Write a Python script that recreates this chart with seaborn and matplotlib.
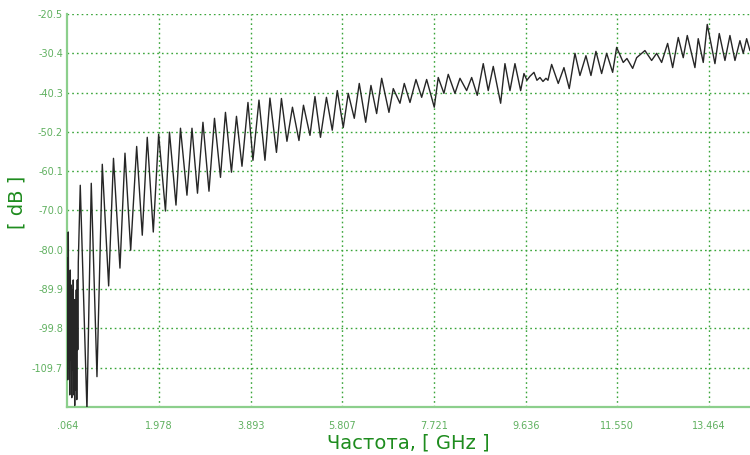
import matplotlib
matplotlib.use("Agg")
import matplotlib.pyplot as plt
import numpy as np
import pandas as pd
import seaborn as sns

# Measured transmission response: frequency (GHz) and level (dB)
freq_ghz = [
    0.064, 0.074, 0.085, 0.095, 0.106, 0.116, 0.127, 0.137, 0.148, 0.158,
    0.168, 0.179, 0.189, 0.200, 0.210, 0.219, 0.231, 0.241, 0.252, 0.262,
    0.273, 0.283, 0.294, 0.335, 0.475, 0.565, 0.684, 0.795, 0.928, 1.029,
    1.164, 1.269, 1.388, 1.513, 1.630, 1.734, 1.860, 1.972, 2.114, 2.198,
    2.334, 2.428, 2.563, 2.668, 2.783, 2.897, 3.023, 3.138, 3.263, 3.367,
    3.492, 3.597, 3.712, 3.837, 3.941, 4.067, 4.192, 4.296, 4.432, 4.536,
    4.651, 4.766, 4.902, 4.996, 5.132, 5.236, 5.351, 5.476, 5.597, 5.702,
    5.827, 5.931, 6.057, 6.161, 6.295, 6.405, 6.524, 6.629, 6.781, 6.871,
    7.011, 7.101, 7.220, 7.345, 7.464, 7.568, 7.727, 7.810, 7.929, 8.019,
    8.159, 8.264, 8.403, 8.508, 8.625, 8.750, 8.854, 8.959, 9.113, 9.203,
    9.308, 9.412, 9.531, 9.600, 9.662, 9.725, 9.809, 9.871, 9.934, 9.997,
    10.059, 10.101, 10.178, 10.316, 10.435, 10.546, 10.665, 10.769, 10.894, 10.999,
    11.103, 11.222, 11.327, 11.452, 11.535, 11.673, 11.750, 11.870, 11.953, 12.058,
    12.126, 12.266, 12.371, 12.475, 12.600, 12.705, 12.822, 12.926, 13.010, 13.170,
    13.239, 13.344, 13.427, 13.588, 13.678, 13.797, 13.901, 14.006, 14.110, 14.179,
    14.250, 14.319,
]
level_db = [
    -82.1, -112.8, -75.5, -100.2, -92.6, -116.6, -85.1, -107.7, -88.9, -117.3,
    -90.1, -110.3, -87.6, -116.6, -92.6, -119.3, -92.6, -115.3, -90.1, -117.8,
    -87.6, -105.2, -83.1, -63.7, -120.5, -63.2, -112.0, -58.4, -89.1, -56.9,
    -84.6, -55.6, -80.1, -53.9, -76.3, -51.6, -75.5, -50.8, -70.2, -50.3,
    -68.7, -49.3, -66.2, -49.3, -65.7, -47.8, -65.2, -46.8, -61.7, -45.3,
    -60.4, -46.3, -58.9, -42.8, -57.4, -42.2, -57.4, -41.7, -55.4, -41.8,
    -52.6, -44.0, -52.4, -43.5, -51.1, -41.3, -51.6, -41.5, -49.8, -39.8,
    -49.1, -40.5, -46.8, -38.0, -47.8, -38.5, -45.6, -36.7, -45.3, -39.3,
    -43.0, -38.0, -42.8, -37.0, -41.5, -37.0, -44.0, -36.5, -40.5, -35.7,
    -40.5, -36.7, -39.8, -36.5, -41.0, -33.0, -39.8, -33.7, -43.0, -33.0,
    -39.8, -33.0, -39.8, -35.5, -37.2, -36.2, -35.2, -37.2, -36.5, -37.5,
    -36.7, -37.2, -33.2, -38.0, -34.0, -39.3, -30.4, -36.0, -31.0, -36.0,
    -29.9, -35.5, -30.4, -35.2, -28.9, -32.7, -31.7, -34.2, -31.5, -30.4,
    -29.7, -32.2, -30.4, -32.7, -27.9, -34.0, -26.4, -31.5, -25.9, -34.0,
    -26.7, -32.7, -23.1, -33.0, -25.4, -32.2, -25.9, -32.2, -27.2, -30.4,
    -26.7, -29.7,
]

# Axis ticks as printed by the analyser
x_tick_values = [0.064, 1.978, 3.893, 5.807, 7.721, 9.636, 11.550, 13.464]
x_tick_labels = [".064", "1.978", "3.893", "5.807", "7.721", "9.636", "11.550", "13.464"]
y_tick_values = [-20.5, -30.41, -40.32, -50.23, -60.14, -70.05, -79.96, -89.87, -99.78, -109.69]
y_tick_labels = ["-20.5", "-30.4", "-40.3", "-50.2", "-60.1", "-70.0", "-80.0", "-89.9", "-99.8", "-109.7"]

df = pd.DataFrame({"freq": freq_ghz, "level": level_db})

sns.set_theme(style="white")
plt.rcParams["font.family"] = ["DejaVu Sans"]

fig = plt.figure(figsize=(7.5, 4.55), dpi=100)
ax = fig.add_axes([0.0897, 0.106, 0.9103, 0.863])

grid_green = "#3aa53a"
spine_green = "#8ccf8c"
label_green = "#1e8c1e"
tick_green = "#5fb05f"

ax.set_xlim(0.064, 14.32)
ax.set_ylim(-119.6, -20.5)

for xv in x_tick_values[1:]:
    ax.axvline(xv, color=grid_green, lw=1.0, ls=(0, (1.2, 2.2)), zorder=1)
for yv in y_tick_values:
    ax.axhline(yv, color=grid_green, lw=1.0, ls=(0, (1.2, 2.2)), zorder=1)

sns.lineplot(data=df, x="freq", y="level", ax=ax, color="#262626",
             linewidth=1.0, estimator=None, sort=False, zorder=3)

ax.set_xticks(x_tick_values)
ax.set_xticklabels(x_tick_labels)
ax.set_yticks(y_tick_values)
ax.set_yticklabels(y_tick_labels)
ax.tick_params(axis="both", length=0, labelsize=7, colors=tick_green, pad=10)
ax.tick_params(axis="y", pad=3)

for side in ("top", "right"):
    ax.spines[side].set_visible(False)
for side in ("left", "bottom"):
    ax.spines[side].set_color(spine_green)
    ax.spines[side].set_linewidth(1.6)

ax.set_xlabel("Частота, [ GHz ]", fontsize=14, color=label_green, labelpad=2)
ax.set_ylabel("[ dB ]", fontsize=14, color=label_green)
ax.yaxis.set_label_coords(-0.06, 0.52)

fig.savefig("out.png", dpi=100)
